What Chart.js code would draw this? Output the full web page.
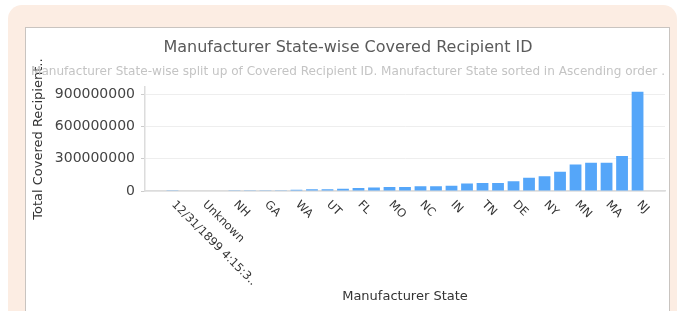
<!DOCTYPE html>
<html>
<head>
<meta charset="utf-8">
<script src="https://cdn.jsdelivr.net/npm/chart.js@4"></script>
<style>
  html, body { margin: 0; padding: 0; background: #fff; overflow: hidden; }
  .card {
    position: absolute; left: 8px; top: 5px; width: 669px; height: 330px;
    background: #fcede3; border-radius: 14px;
  }
  .panel {
    position: absolute; left: 25px; top: 27px; width: 643px; height: 300px;
    background: #fff; border: 1px solid #c9c4c0;
  }
  #chart { position: absolute; left: 26px; top: 28px; }
</style>
</head>
<body>
<div class="card"></div>
<div class="panel"></div>
<canvas id="chart" width="643" height="283"></canvas>
<script>
// only every other category has a label in the original
const states = [
  "12/31/1899 4:15:3..", "", "Unknown", "", "NH", "", "GA", "", "WA", "", "UT", "",
  "FL", "", "MO", "", "NC", "", "IN", "", "TN", "", "DE", "", "NY", "", "MN", "",
  "MA", "", "NJ"
];
const recipientTotals = [
  3000000, 4000000, 5000000, 5000000, 6000000, 6000000, 7000000, 8000000,
  12000000, 16000000, 17000000, 22000000, 28000000, 32000000, 37000000, 37000000,
  44000000, 45000000, 48000000, 69000000, 75000000, 75000000, 91000000, 122000000,
  138000000, 178000000, 247000000, 262000000, 262000000, 325000000, 922000000
];
const yTicks = [0, 300000000, 600000000, 900000000];
const yMax = 965000000;

const xLabels = {
  id: "xLabels",
  afterDraw(chart) {
    const { ctx } = chart;
    const x = chart.scales.x;
    ctx.save();
    ctx.font = '11.5px "DejaVu Sans"';
    ctx.fillStyle = "#333";
    ctx.textAlign = "left";
    ctx.textBaseline = "middle";
    states.forEach((s, i) => {
      if (!s) return;
      ctx.save();
      ctx.translate(x.getPixelForValue(i) + 1, x.top + 12);
      ctx.rotate(Math.PI / 4);
      ctx.fillText(s, 0, 0);
      ctx.restore();
    });
    ctx.restore();
  }
};

new Chart(document.getElementById("chart"), {
  type: "bar",
  data: {
    labels: states,
    datasets: [{
      label: "Total Covered Recipient ID",
      data: recipientTotals,
      backgroundColor: "#55a6f9",
      categoryPercentage: 1,
      barPercentage: 0.76
    }]
  },
  options: {
    responsive: false,
    animation: false,
    layout: { padding: { left: 5, right: 4, top: 0, bottom: 7 } },
    plugins: {
      legend: { display: false },
      tooltip: { enabled: false },
      title: {
        display: true,
        text: "Manufacturer State-wise Covered Recipient ID",
        color: "#5a5a5a",
        font: { family: "DejaVu Sans", size: 16, weight: "normal" },
        padding: { top: 10, bottom: 4 }
      },
      subtitle: {
        display: true,
        text: "Manufacturer State-wise split up of Covered Recipient ID. Manufacturer State sorted in Ascending order .",
        color: "#c4c4c4",
        font: { family: "DejaVu Sans", size: 12.3 },
        padding: { top: 3, bottom: 8.2 }
      }
    },
    scales: {
      x: {
        offset: false,
        grid: { display: false },
        border: { color: "#dcdcdc", width: 1.5 },
        ticks: { display: false },
        title: {
          display: true,
          text: "Manufacturer State",
          color: "#333",
          font: { family: "DejaVu Sans", size: 13 },
          padding: 0
        },
        afterBuildTicks: (s) => {
          // leave some room between the axes and the outer bars
          s._startValue = -1.77;
          s._valueRange = states.length - 1 + 3.54;
        },
        afterFit: (s) => { s.height = 113; }
      },
      y: {
        min: 0,
        max: yMax,
        afterBuildTicks: (s) => { s.ticks = yTicks.map((v) => ({ value: v })); },
        grid: { color: "#eeeeee", tickColor: "#cccccc", tickLength: 4 },
        border: { color: "#dcdcdc", width: 1.5 },
        ticks: {
          autoSkip: false,
          padding: 6,
          color: "#444",
          font: { family: "DejaVu Sans", size: 14 },
          callback: (v) => String(v)
        },
        title: {
          display: true,
          text: "Total Covered Recipient..",
          color: "#333",
          font: { family: "DejaVu Sans", size: 13 },
          padding: 0
        },
        afterFit: (s) => { s.width = 114; }
      }
    }
  },
  plugins: [xLabels]
});
</script>
</body>
</html>
